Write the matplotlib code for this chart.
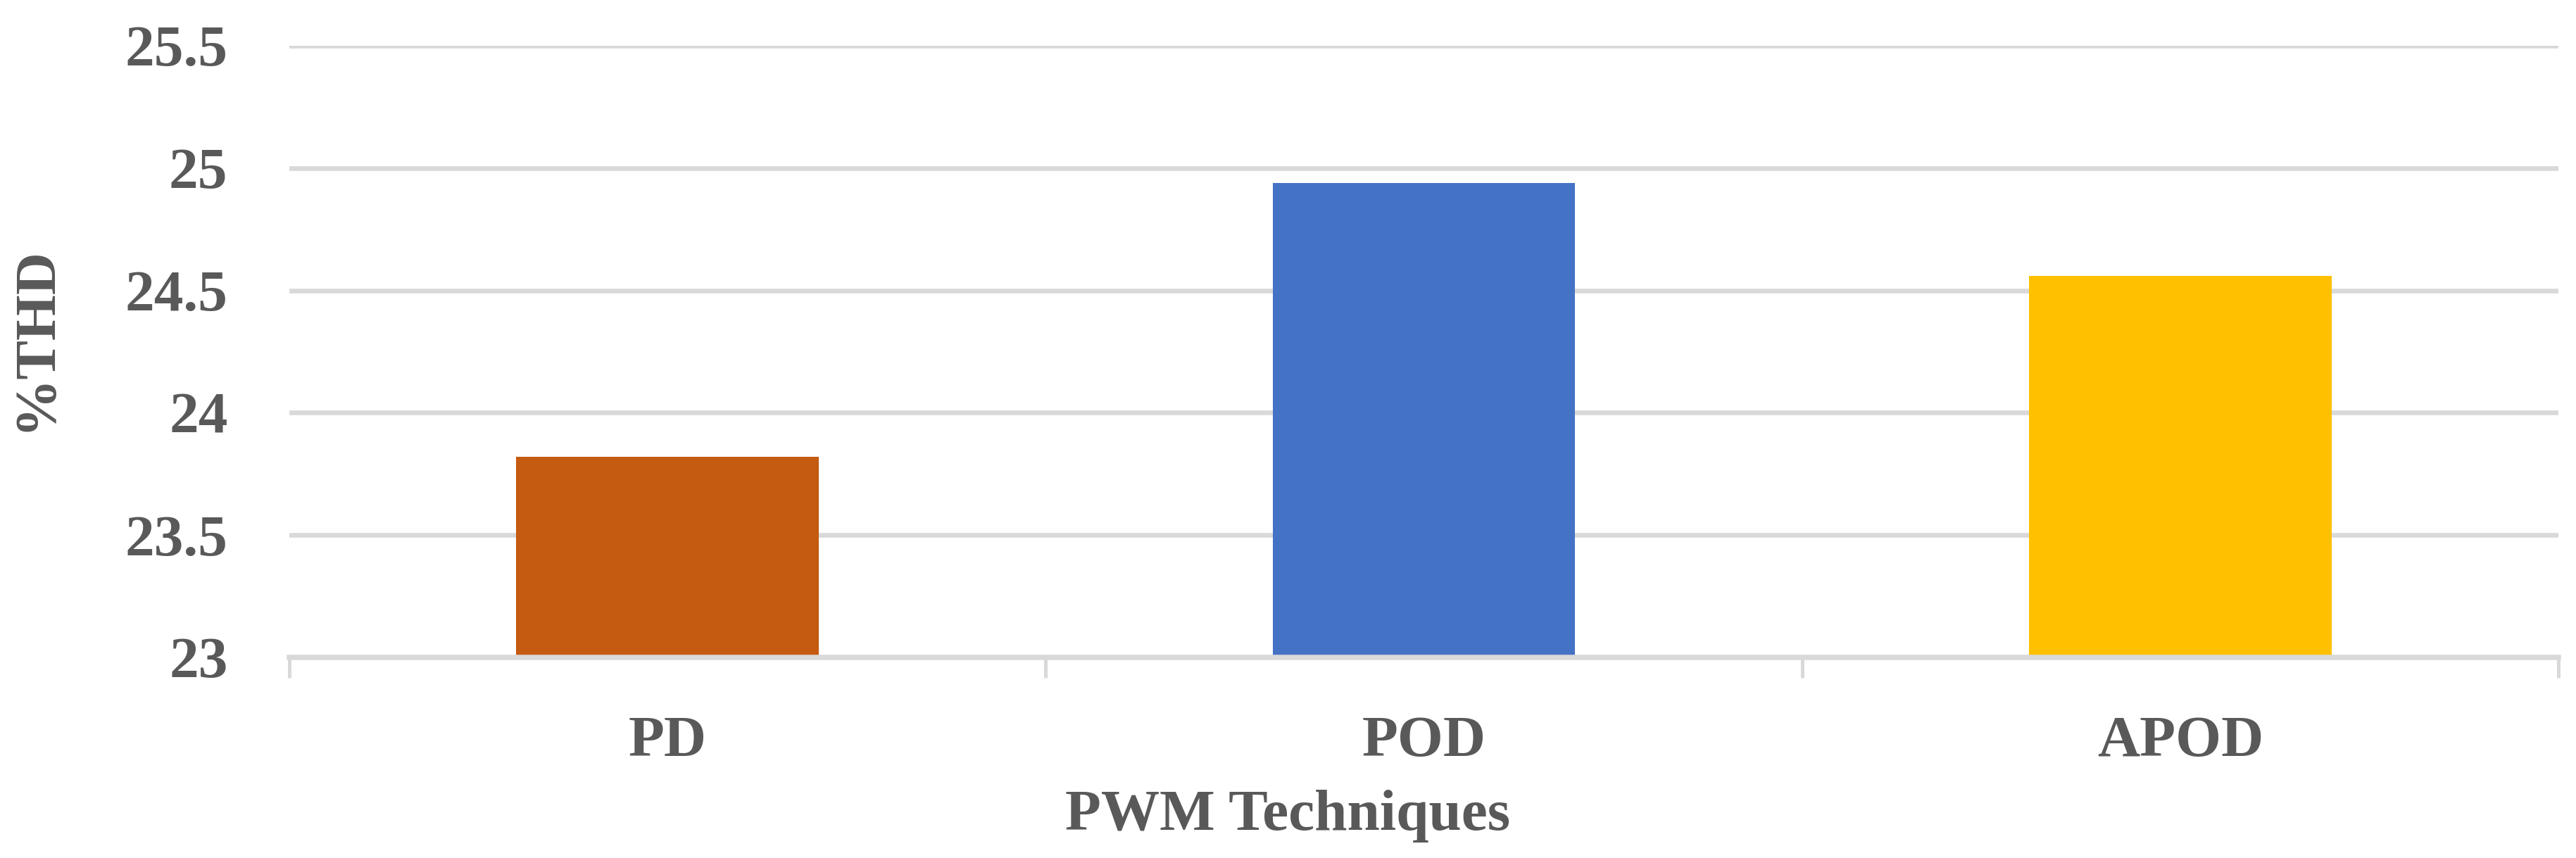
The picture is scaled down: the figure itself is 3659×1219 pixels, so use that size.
import matplotlib
matplotlib.use("Agg")
import matplotlib.pyplot as plt

# data
techniques = ["PD", "POD", "APOD"]
thd_values = [23.82, 24.94, 24.56]
bar_colors = ["#C55A11", "#4472C4", "#FFC000"]
y_ticks = [23, 23.5, 24, 24.5, 25, 25.5]
y_tick_labels = ["23", "23.5", "24", "24.5", "25", "25.5"]

TEXT = "#595959"
GRID = "#D9D9D9"

plt.rcParams["font.family"] = ["Liberation Serif", "DejaVu Serif"]
plt.rcParams["font.weight"] = "bold"

fig = plt.figure(figsize=(3659 / 300, 1219 / 300), dpi=300)
ax = fig.add_axes([0.1123, 0.2338, 0.8809, 0.7129])

x = list(range(len(techniques)))
ax.bar(x, thd_values, width=0.4, color=bar_colors, zorder=3)

ax.set_xlim(-0.5, len(techniques) - 0.5)
ax.set_ylim(23, 25.5)
ax.set_yticks(y_ticks)
ax.set_yticklabels(y_tick_labels)
ax.set_xticks(x)
ax.set_xticklabels(techniques)
ax.set_xticks([i - 0.5 for i in range(len(techniques) + 1)], minor=True)

ax.grid(axis="y", color=GRID, linewidth=1.6, zorder=0)
for side in ["top", "right", "left"]:
    ax.spines[side].set_visible(False)
ax.spines["bottom"].set_color(GRID)
ax.spines["bottom"].set_linewidth(1.8)
ax.spines["bottom"].set_zorder(4)

ax.tick_params(axis="y", length=0, pad=21, labelsize=20, labelcolor=TEXT)
ax.tick_params(axis="x", which="major", length=0, pad=20, labelsize=20, labelcolor=TEXT)
ax.tick_params(axis="x", which="minor", length=7, width=1.2, color=GRID)
for lbl in ax.get_xticklabels() + ax.get_yticklabels():
    lbl.set_fontweight("bold")

fig.text(0.5, 1 - 1179 / 1219, "PWM Techniques", ha="center", va="baseline",
         fontsize=20, fontweight="bold", color=TEXT)
fig.text(51 / 3659, 1 - 481 / 1219, "%THD", ha="center", va="center", rotation=90,
         fontsize=20, fontweight="bold", color=TEXT)

fig.savefig("out.png", dpi=300, facecolor="white")
